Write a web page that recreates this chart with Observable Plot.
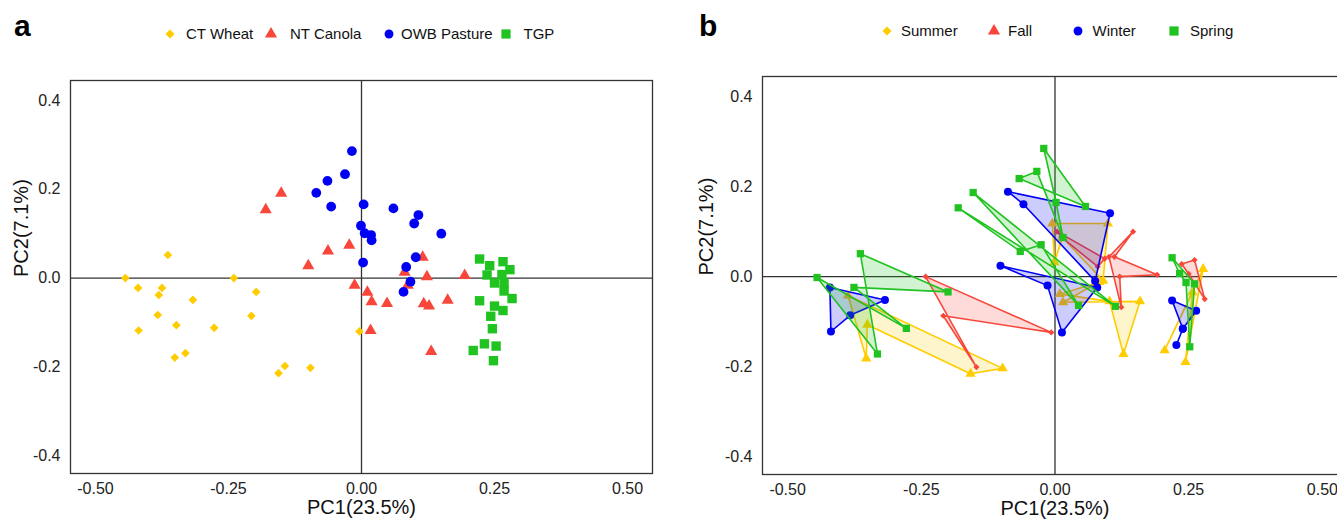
<!DOCTYPE html>
<html><head><meta charset="utf-8">
<script src="https://cdn.jsdelivr.net/npm/d3@7"></script>
<script src="https://cdn.jsdelivr.net/npm/@observablehq/plot@0.6"></script>
<style>
html,body{margin:0;padding:0;overflow:hidden;background:#fff;}
#root{position:relative;width:1337px;height:521px;overflow:hidden;font-family:"Liberation Sans",Arial,sans-serif;}
.tag{position:absolute;font-weight:bold;font-size:30px;line-height:30px;color:#000;}
.leg{position:absolute;font-size:15px;line-height:18px;color:#111;white-space:nowrap;}
.glyph{position:absolute;width:16px;height:16px;overflow:visible;}
</style></head><body><div id="root"></div>
<script>
// ---------- shared ----------
const xTicks = [-0.5, -0.25, 0, 0.25, 0.5];
const yTicks = [-0.4, -0.2, 0, 0.2, 0.4];
const xTitle = "PC1(23.5%)";
const yTitle = "PC2(7.1%)";

// ---------- panel a: treatments ----------
const treatments = ["CT Wheat", "NT Canola", "OWB Pasture", "TGP"];
const ctWheat = [[-0.364,0.052],[-0.444,0.0],[-0.240,0.0],[-0.420,-0.022],[-0.375,-0.022],[-0.381,-0.038],[-0.198,-0.031],[-0.317,-0.049],[-0.383,-0.083],[-0.207,-0.085],[-0.348,-0.106],[-0.277,-0.112],[-0.419,-0.118],[-0.004,-0.120],[-0.331,-0.169],[-0.351,-0.179],[-0.144,-0.198],[-0.096,-0.202],[-0.156,-0.214]];
const ntCanola = [[-0.151,0.191],[-0.180,0.154],[-0.063,0.061],[-0.023,0.074],[-0.100,0.028],[0.115,0.047],[0.081,0.013],[0.123,0.003],[0.194,0.006],[-0.013,-0.016],[0.011,-0.032],[0.087,-0.016],[0.019,-0.053],[0.048,-0.057],[0.117,-0.058],[0.127,-0.063],[0.162,-0.050],[0.017,-0.118],[0.131,-0.165]];
const owbPasture = [[-0.018,0.286],[-0.031,0.234],[-0.064,0.219],[-0.085,0.192],[-0.057,0.161],[0.004,0.166],[0.060,0.157],[0.107,0.142],[0.099,0.123],[-0.001,0.118],[0.006,0.101],[0.018,0.097],[0.019,0.085],[0.150,0.100],[0.003,0.035],[0.102,0.047],[0.084,0.025],[0.092,-0.008],[0.079,-0.031]];
const tgp = [[0.222,0.043],[0.241,0.028],[0.266,0.037],[0.279,0.019],[0.236,0.007],[0.264,0.008],[0.250,-0.011],[0.268,-0.011],[0.268,-0.029],[0.283,-0.046],[0.222,-0.051],[0.250,-0.063],[0.266,-0.073],[0.243,-0.086],[0.246,-0.114],[0.231,-0.148],[0.253,-0.153],[0.210,-0.163],[0.248,-0.186]];

// ---------- panel b: seasons (each polygon = one group) ----------
const seasons = ["Summer", "Fall", "Winter", "Spring"];
const summerPolys = [
  [[-0.387,-0.042],[-0.098,-0.204],[-0.158,-0.216],[-0.351,-0.107],[-0.353,-0.182]],
  [[-0.005,0.118],[0.099,0.118],[0.090,-0.009],[0.014,0.087],[-0.001,0.032]],
  [[0.009,-0.039],[0.083,-0.012],[0.015,-0.057],[0.159,-0.055],[0.128,-0.172],[0.102,-0.055]],
  [[0.277,0.017],[0.205,-0.164],[0.257,-0.035],[0.244,-0.190]]
];
const fallPolys = [
  [[-0.242,0.0],[-0.007,-0.124],[-0.209,-0.087],[-0.147,-0.201]],
  [[0.004,0.100],[0.093,0.040],[0.080,0.022],[0.012,0.088]],
  [[0.146,0.100],[0.101,0.044],[0.124,-0.068],[0.121,0.0],[0.191,0.004],[0.111,0.044]],
  [[0.237,0.028],[0.261,0.037],[0.280,-0.050],[0.250,0.006]]
];
const winterPolys = [
  [[-0.421,-0.024],[-0.318,-0.052],[-0.383,-0.086],[-0.419,-0.122]],
  [[-0.088,0.189],[0.103,0.141],[0.075,-0.010],[-0.059,0.161]],
  [[-0.102,0.024],[-0.014,-0.020],[0.013,-0.124],[0.079,-0.024]],
  [[0.219,-0.053],[0.264,-0.076],[0.239,-0.116],[0.227,-0.152],[0.239,-0.116]]
];
const springPolys = [
  [[-0.445,-0.002],[-0.278,-0.115],[-0.376,-0.024],[-0.200,-0.034],[-0.364,0.051],[-0.332,-0.172]],
  [[-0.021,0.285],[0.057,0.156],[-0.067,0.218],[-0.034,0.234],[0.015,0.087],[0.002,0.165]],
  [[-0.153,0.187],[0.113,-0.066],[-0.181,0.153],[-0.065,0.056],[-0.026,0.071],[0.044,-0.064]],
  [[0.219,0.042],[0.261,-0.016],[0.252,-0.156],[0.245,-0.013],[0.233,0.007]]
];

// ---------- styles ----------
const colors = ["#FFCC00", "#F8473A", "#0000F5", "#20C320"];
const symA = ["diamond2", "triangle", "circle", "square"];
const rA = [3.9, 4.5, 4.9, 5.3];
const symB = ["triangle", "diamond2", "circle", "square"];
const rB = [3.8, 2.8, 4.0, 4.1];
const legSymA = [d3.symbolDiamond2, d3.symbolTriangle, d3.symbolCircle, d3.symbolSquare];
const legSizeA = [52, 64, 62, 85];
const FONT = '"Liberation Sans", Arial, sans-serif';

const root = document.getElementById("root");
const xDomain = [-0.547, 0.547];
const yDomain = [-0.44, 0.445];

function axes() {
  return [
    Plot.frame({stroke: "#333", strokeWidth: 1.3}),
    Plot.axisX({ticks: xTicks, tickFormat: d => d.toFixed(2), tickSize: 0, tickPadding: 9, fontSize: 16, fill: "#222", label: null}),
    Plot.axisY({ticks: yTicks, tickFormat: d => d.toFixed(1), tickSize: 0, tickPadding: 10, fontSize: 16, fill: "#222", label: null})
  ];
}

// panel a
const aSets = [ctWheat, ntCanola, owbPasture, tgp];
const svgA = Plot.plot({
  width: 668, height: 521,
  marginLeft: 70, marginRight: 16, marginTop: 80, marginBottom: 48,
  x: {domain: xDomain}, y: {domain: yDomain},
  style: {fontFamily: FONT, fontSize: "16px", color: "#222", background: "transparent", overflow: "visible"},
  marks: [
    Plot.ruleX([0], {stroke: "#333", strokeWidth: 1.3}),
    Plot.ruleY([0], {stroke: "#333", strokeWidth: 1.3}),
    ...aSets.map((set, i) => Plot.dot(set, {x: d => d[0], y: d => d[1], symbol: () => symA[i], r: rA[i], fill: colors[i], stroke: "none"})),
    ...axes(),
    Plot.text([xTitle], {text: d => d, frameAnchor: "bottom", dy: 40, fontSize: 20, fill: "#111"}),
    Plot.text([yTitle], {text: d => d, frameAnchor: "left", dx: -49, rotate: -90, fontSize: 20, fill: "#111"})
  ]
});
svgA.style.position = "absolute"; svgA.style.left = "0px"; svgA.style.top = "0px";
root.appendChild(svgA);

// panel b
const bPolys = [summerPolys, fallPolys, winterPolys, springPolys];
const bRows = bPolys.map(polys => polys.flatMap((poly, g) => poly.map(([x, y]) => ({x, y, g}))));
const svgB = Plot.plot({
  width: 695, height: 521,
  marginLeft: 94, marginRight: 16, marginTop: 76, marginBottom: 47,
  x: {domain: xDomain}, y: {domain: yDomain},
  style: {fontFamily: FONT, fontSize: "16px", color: "#222", background: "transparent", overflow: "visible"},
  marks: [
    Plot.ruleX([0], {stroke: "#333", strokeWidth: 1.3}),
    Plot.ruleY([0], {stroke: "#333", strokeWidth: 1.3}),
    ...bRows.flatMap((rows, i) => [
      Plot.line(rows, {x: "x", y: "y", z: "g", curve: "linear-closed", stroke: colors[i], strokeWidth: 1.6, fill: colors[i], fillOpacity: 0.2}),
      Plot.dot(rows, {x: "x", y: "y", symbol: () => symB[i], r: rB[i], fill: colors[i], stroke: "none"})
    ]),
    ...axes(),
    Plot.text([xTitle], {text: d => d, frameAnchor: "bottom", dy: 40, fontSize: 20, fill: "#111"}),
    Plot.text([yTitle], {text: d => d, frameAnchor: "left", dx: -56, rotate: -90, fontSize: 20, fill: "#111"})
  ]
});
svgB.style.position = "absolute"; svgB.style.left = "668px"; svgB.style.top = "0px";
root.appendChild(svgB);

// panel tags
function tag(txt, left) {
  const d = document.createElement("div");
  d.className = "tag"; d.textContent = txt;
  d.style.left = left + "px"; d.style.top = "11px";
  root.appendChild(d);
}
tag("a", 14); tag("b", 699);

// legends
function legend(labels, glyphX, textX, cy) {
  labels.forEach((lab, i) => {
    const s = d3.create("svg").attr("class", "glyph").attr("viewBox", "-8 -8 16 16")
      .style("left", (glyphX[i] - 8) + "px").style("top", (cy - 8) + "px");
    s.append("path").attr("d", d3.symbol(legSymA[i], legSizeA[i])()).attr("fill", colors[i]);
    root.appendChild(s.node());
    const t = document.createElement("div");
    t.className = "leg"; t.textContent = lab;
    t.style.left = textX[i] + "px"; t.style.top = (cy - 9) + "px";
    root.appendChild(t);
  });
}
legend(treatments, [170, 271, 389, 506], [186, 290, 401, 523.5], 34);
legend(seasons, [887, 994, 1078, 1174], [901, 1008, 1092.5, 1190], 30.5);
</script>
</body></html>
